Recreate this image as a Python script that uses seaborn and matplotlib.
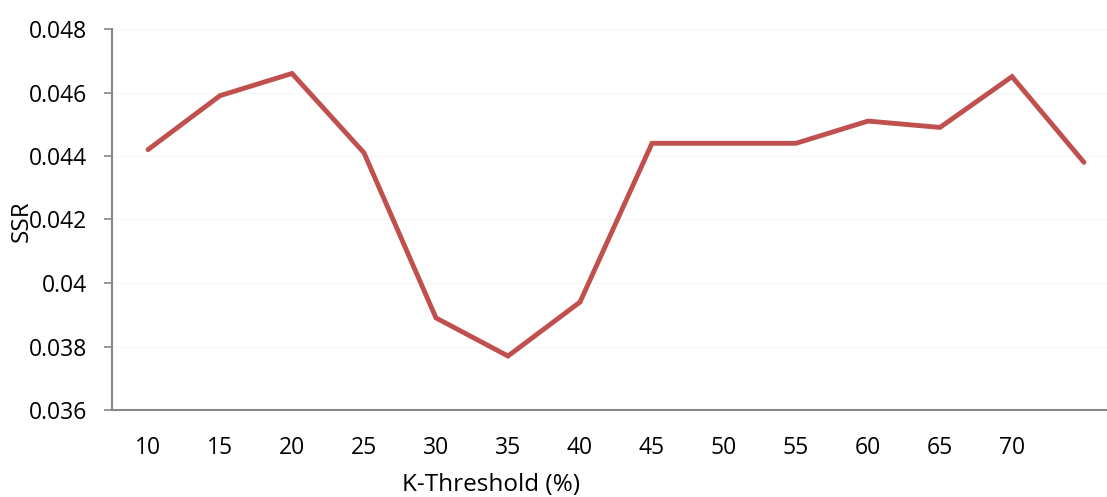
import matplotlib
matplotlib.use("Agg")
import matplotlib.pyplot as plt
import seaborn as sns
import pandas as pd

categories = ["10", "15", "20", "25", "30", "35", "40", "45", "50", "55", "60", "65", "70", ""]
ssr = [0.0442, 0.0459, 0.0466, 0.0441, 0.0389, 0.0377, 0.0394, 0.0444, 0.0444, 0.0444, 0.0451, 0.0449, 0.0465, 0.0438]
y_ticks = [0.036, 0.038, 0.040, 0.042, 0.044, 0.046, 0.048]
y_tick_labels = ["0.036", "0.038", "0.04", "0.042", "0.044", "0.046", "0.048"]

sns.set_theme(style="white")
plt.rcParams['font.family'] = ['Open Sans', 'DejaVu Sans']
plt.rcParams['text.color'] = 'black'

df = pd.DataFrame({"pos": list(range(len(categories))), "ssr": ssr})

fig = plt.figure(figsize=(11.07, 4.97), dpi=100)
ax = fig.add_axes([112/1107, 1 - 410/497, 1 - 112/1107, (410 - 29)/497])

for yt in y_ticks[1:]:
    ax.axhline(yt, color="#f6f6f6", lw=1, zorder=0)

sns.lineplot(data=df, x="pos", y="ssr", ax=ax, color="#C0504D", linewidth=3.5,
             solid_capstyle="round", solid_joinstyle="miter")

ax.set_xlim(-0.5, (1107 - 148) / 72)
ax.set_ylim(0.036, 0.048)
ax.set_xticks(range(len(categories)))
ax.set_xticklabels(categories)
ax.set_yticks(y_ticks)
ax.set_yticklabels(y_tick_labels)

for s in ["top", "right"]:
    ax.spines[s].set_visible(False)
for s in ["left", "bottom"]:
    ax.spines[s].set_color("#868686")
    ax.spines[s].set_linewidth(1.5)

ax.tick_params(axis="x", length=0, pad=19, labelsize=16.5, labelcolor="black")
ax.tick_params(axis="y", length=6, width=1.2, color="#868686", pad=12, labelsize=16.5,
               labelcolor="black", left=True, direction="out")
ax.set_xlabel("")
ax.set_ylabel("")

fig.text(22/1107, 1 - 221/497, "SSR", rotation=90, ha="center", va="center", fontsize=17.5, color="black")
fig.text(491/1107, 1 - 485/497, "K-Threshold (%)", ha="center", va="center", fontsize=17.5, color="black")

fig.savefig("out.png", dpi=100, facecolor="white")
